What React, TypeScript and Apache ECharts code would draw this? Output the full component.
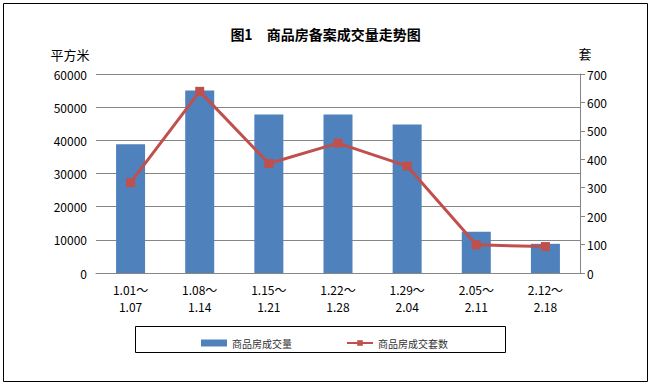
import React, { useEffect, useRef } from "react";
import * as echarts from "echarts";

const categories = ["1.01～\n1.07", "1.08～\n1.14", "1.15～\n1.21", "1.22～\n1.28", "1.29～\n2.04", "2.05～\n2.11", "2.12～\n2.18"];
const areaValues = [38800, 55000, 47800, 47800, 44800, 12400, 8800];
const unitValues = [318, 639, 385, 457, 376, 99, 93];
const seriesNames = ["商品房成交量", "商品房成交套数"];
const titleText = "图1　商品房备案成交量走势图";
const leftUnit = "平方米";
const rightUnit = "套";

const FONT = "'Noto Sans CJK SC', 'Noto Sans', sans-serif";

export default function App() {
  const ref = useRef<HTMLDivElement>(null);
  useEffect(() => {
    if (!ref.current) return;
    const chart = echarts.init(ref.current, undefined, { renderer: "svg" });
    chart.setOption({
      animation: false,
      backgroundColor: "#ffffff",
      textStyle: { fontFamily: FONT },
      title: {
        text: titleText,
        left: "center",
        top: 22,
        textStyle: { fontSize: 14, fontWeight: "bold", color: "#000", fontFamily: FONT },
      },
      grid: { left: 96, right: 71, top: 74, bottom: 112, containLabel: false },
      legend: {
        left: 196,
        top: 333,
        itemWidth: 26,
        itemHeight: 7,
        itemGap: 54,
        textStyle: { fontSize: 10, color: "#333", fontFamily: FONT },
        data: [
          { name: seriesNames[0], icon: "rect" },
          { name: seriesNames[1] },
        ],
      },
      xAxis: {
        type: "category",
        data: categories,
        axisLine: { show: true, lineStyle: { color: "#868686" } },
        axisTick: { show: false },
        axisLabel: { margin: 8, fontSize: 12, lineHeight: 17, color: "#000", fontFamily: FONT },
      },
      yAxis: [
        {
          type: "value",
          min: 0,
          max: 60000,
          interval: 10000,
          axisLine: { show: false },
          axisTick: { show: false },
          splitLine: { show: true, lineStyle: { color: "#868686", width: 1 } },
          axisLabel: { margin: 9, fontSize: 12, color: "#000", fontFamily: FONT, formatter: (v: number) => String(v) },
        },
        {
          type: "value",
          min: 0,
          max: 700,
          interval: 100,
          position: "right",
          axisLine: { show: true, lineStyle: { color: "#868686" } },
          axisTick: { show: true, length: 5, lineStyle: { color: "#868686" } },
          splitLine: { show: false },
          axisLabel: { margin: 7, fontSize: 12, color: "#000", fontFamily: FONT, formatter: (v: number) => String(v) },
        },
      ],
      series: [
        {
          name: seriesNames[0],
          type: "bar",
          data: areaValues,
          barWidth: 29,
          itemStyle: { color: "#4f81bd" },
          yAxisIndex: 0,
        },
        {
          name: seriesNames[1],
          type: "line",
          data: unitValues,
          yAxisIndex: 1,
          symbol: "rect",
          symbolSize: 9,
          lineStyle: { color: "#c0504d", width: 3 },
          itemStyle: { color: "#c0504d" },
        },
      ],
      graphic: [
        {
          type: "rect",
          shape: { x: 3.5, y: 3.5, width: 644, height: 378 },
          style: { fill: "none", stroke: "#000", lineWidth: 1 },
          silent: true,
        },
        {
          type: "rect",
          shape: { x: 135.5, y: 326.5, width: 370, height: 26 },
          style: { fill: "none", stroke: "#000", lineWidth: 1 },
          silent: true,
        },
        {
          type: "text",
          x: 70,
          y: 54,
          style: { text: leftUnit, fontSize: 13, fill: "#000", align: "center", verticalAlign: "middle", fontFamily: FONT },
        },
        {
          type: "text",
          x: 585,
          y: 53,
          style: { text: rightUnit, fontSize: 13, fill: "#000", align: "center", verticalAlign: "middle", fontFamily: FONT },
        },
      ],
    });
    return () => chart.dispose();
  }, []);
  return (
    <div
      ref={ref}
      style={{ position: "fixed", left: 0, top: 0, width: 651, height: 385 }}
    />
  );
}
